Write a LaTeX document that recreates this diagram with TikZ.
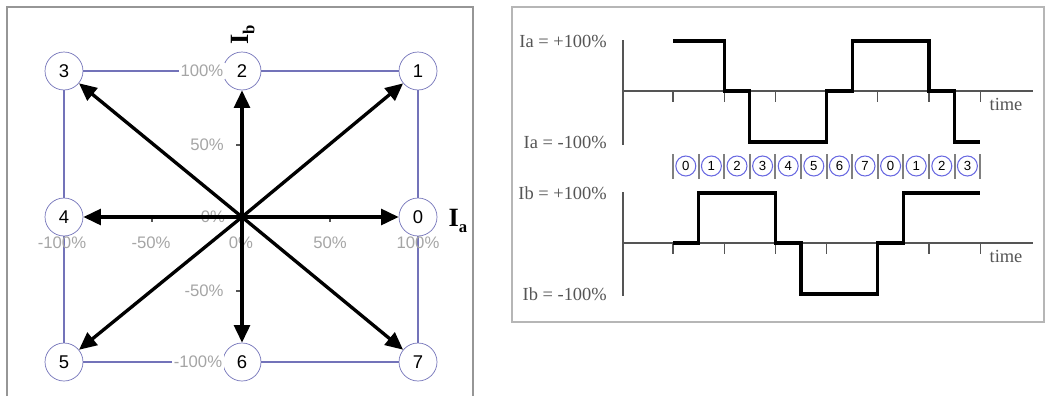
\documentclass[tikz,border=0pt]{standalone}
\usepackage{fontspec}
\setmainfont{Liberation Sans}
\newfontfamily\timesrm{Liberation Serif}
\usetikzlibrary{arrows.meta,positioning}
\definecolor{frameGray}{RGB}{150,150,150}
\definecolor{gridBlue}{RGB}{115,115,185}
\definecolor{ringBlue}{RGB}{105,105,225}
\definecolor{lblGray}{RGB}{165,165,165}
\definecolor{axisGray}{RGB}{85,85,85}
\tikzset{
  vec/.style={circle,draw=gridBlue,fill=white,minimum size=0.76cm,inner sep=0pt,
              font=\fontsize{10.5}{10}\selectfont},
  pct/.style={text=lblGray,font=\fontsize{9.5}{10}\selectfont,inner sep=1pt},
  arr/.style={-{Triangle[length=10pt,width=9pt]},line width=1.9pt},
  grd/.style={gridBlue,semithick},
  ring/.style={circle,draw=ringBlue,semithick,minimum size=0.4cm,inner sep=0pt,
               font=\fontsize{7.5}{8}\selectfont},
  sep/.style={gray,line width=1.1pt},
  lvl/.style={anchor=east,text=axisGray,font=\timesrm\fontsize{10.5}{12}\selectfont},
  tlbl/.style={text=axisGray,font=\timesrm\fontsize{10.5}{12}\selectfont},
  wave/.style={line width=1.9pt},
  ax/.style={axisGray,line width=0.6pt},
}
\begin{document}
\begin{tikzpicture}[x=0.02cm,y=-0.02cm]
  \useasboundingbox (0,0) rectangle (1050,396);
  % vector diagram
  \draw[frameGray,line width=0.8pt] (7,396) -- (7,7) -- (473,7) -- (473,396);
  \coordinate (O) at (242,217);
  \node[vec] (v0) at (418,217) {0};
  \node[vec] (v1) at (418,71)  {1};
  \node[vec] (v2) at (242,71)  {2};
  \node[vec] (v3) at (64,71)   {3};
  \node[vec] (v4) at (64,217)  {4};
  \node[vec] (v5) at (64,362)  {5};
  \node[vec] (v6) at (242,362) {6};
  \node[vec] (v7) at (418,362) {7};
  \foreach \a/\b in {v3/v2,v2/v1,v1/v0,v0/v7,v7/v6,v6/v5,v5/v4,v4/v3}
    \draw[grd] (\a) -- (\b);
  \node[pct,fill=white] (top100) at (202,71) {100\%};
  \node[pct,fill=white] (bot100) at (198,362) {-100\%};
  \node[pct] (p50)  at (207,145) {50\%};
  \node[pct] (m50)  at (204,291) {-50\%};
  \node[pct] (z0)   at (213,217) {0\%};
  \node[pct] (xm100) at (62,243)  {-100\%};
  \node[pct] (xm50)  at (151,243) {-50\%};
  \node[pct] (x0)    at (241,243) {0\%};
  \node[pct] (x50)   at (330,243) {50\%};
  \node[pct] (x100)  at (418,243) {100\%};
  \draw[ax] (152,217) -- (152,222);
  \draw[ax] (330,217) -- (330,222);
  \draw[ax] (236,145) -- (242,145);
  \draw[ax] (236,291) -- (242,291);
  \foreach \v in {0,...,7}
    \draw[arr] (O) -- (v\v);
  \node[font=\timesrm\bfseries\fontsize{15}{15}\selectfont] (ia) at (458,221)
    {I\raisebox{-0.45ex}{\fontsize{9.5}{9}\selectfont a}};
  \node[font=\timesrm\bfseries\fontsize{15}{15}\selectfont,rotate=90] (ib) at (243,35)
    {I\raisebox{-0.45ex}{\fontsize{9.5}{9}\selectfont b}};
  % waveforms
  \draw[frameGray!70,line width=0.8pt] (512,7) rectangle (1044,322);
  \node[lvl] (iap) at (613,41)  {Ia = +100\%};
  \node[lvl] (ian) at (613,142) {Ia = -100\%};
  \node[lvl] (ibp) at (613,193) {Ib = +100\%};
  \node[lvl] (ibn) at (613,294) {Ib = -100\%};
  \draw[ax] (623,40) -- (623,145);
  \draw[ax] (623,91) -- (1033,91);
  \draw[ax] (623,192) -- (623,296);
  \draw[ax] (623,243) -- (1033,243);
  \foreach \k in {0,...,6} {
    \draw[ax] ({673+51.2*\k},91) -- ++(0,11);
    \draw[ax] ({673+51.2*\k},243) -- ++(0,11);
  }
  \node[tlbl] (ta) at (1006,104) {time};
  \node[tlbl] (tb) at (1006,256) {time};
  \draw[wave] (673,41) -- (724.2,41) -- (724.2,91) -- (749.8,91) -- (749.8,142)
    -- (826.6,142) -- (826.6,91) -- (852.2,91) -- (852.2,41) -- (929,41)
    -- (929,91) -- (954.6,91) -- (954.6,142) -- (980.2,142);
  \draw[wave] (673,243) -- (698.6,243) -- (698.6,193) -- (775.4,193) -- (775.4,243)
    -- (801,243) -- (801,294) -- (877.8,294) -- (877.8,243) -- (903.4,243)
    -- (903.4,193) -- (980.2,193);
  % switching sequence
  \foreach \d [count=\k from 0] in {0,1,2,3,4,5,6,7,0,1,2,3}
    \node[ring] (s\k) at ({685.8+25.6*\k},166) {\d};
  \foreach \k in {0,...,12}
    \draw[sep] ({673+25.6*\k},154) -- ++(0,25);
\end{tikzpicture}
\end{document}
